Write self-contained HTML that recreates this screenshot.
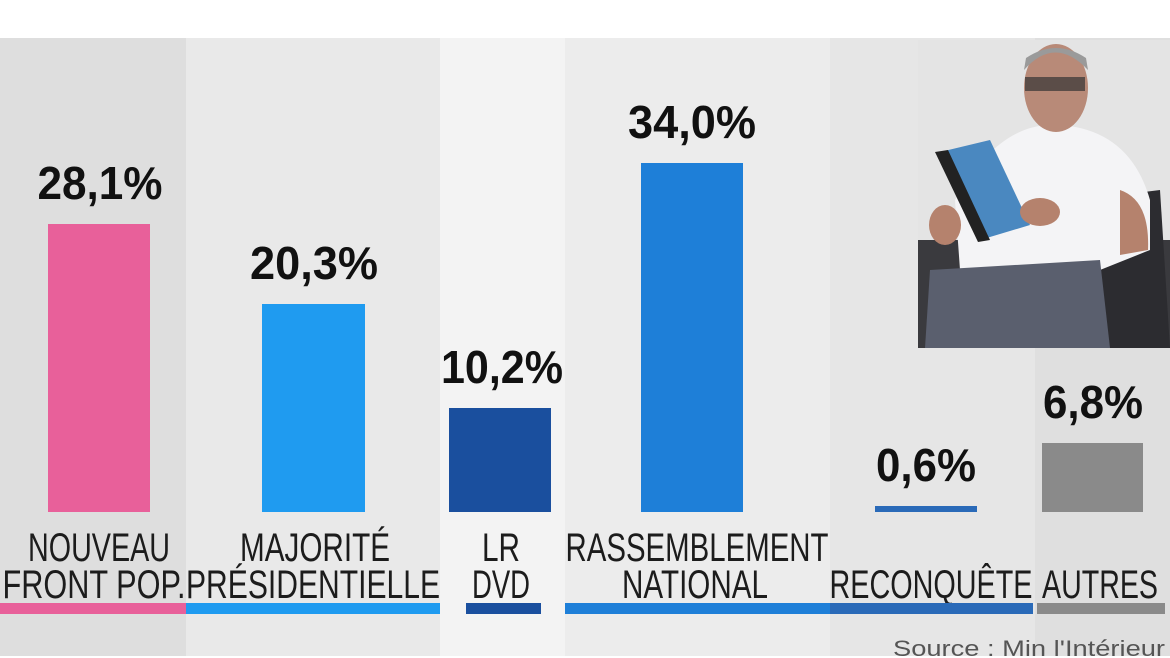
<!DOCTYPE html>
<html><head><meta charset="utf-8"><style>
html,body{margin:0;padding:0;background:#fff;}
svg{display:block}
</style></head><body>
<svg width="1170" height="658" viewBox="0 0 1170 658" xmlns="http://www.w3.org/2000/svg" font-family="Liberation Sans, sans-serif">
<rect x="0" y="0" width="1170" height="658" fill="#fff"/>
<!-- column backgrounds -->
<rect x="0" y="38" width="186" height="618" fill="#dedede"/>
<rect x="186" y="38" width="254" height="618" fill="#e9e9e9"/>
<rect x="440" y="38" width="125" height="618" fill="#f3f3f3"/>
<rect x="565" y="38" width="265" height="618" fill="#ececec"/>
<rect x="830" y="38" width="205" height="618" fill="#e6e6e6"/>
<rect x="1035" y="38" width="135" height="618" fill="#dfdfdf"/>
<!-- bars -->
<rect x="48" y="224" width="102" height="288" fill="#e8609a"/>
<rect x="262" y="304" width="103" height="208" fill="#1f9bf0"/>
<rect x="449" y="408" width="102" height="104" fill="#1a4f9e"/>
<rect x="641" y="163" width="102" height="349" fill="#1e7fd8"/>
<rect x="875" y="506" width="102" height="6" fill="#2a6ab8"/>
<rect x="1042" y="443" width="101" height="69" fill="#8a8a8a"/>
<!-- values -->
<g font-weight="bold" font-size="46" fill="#111" text-anchor="middle" lengthAdjust="spacingAndGlyphs">
<text x="100" y="199" textLength="125" lengthAdjust="spacingAndGlyphs">28,1%</text>
<text x="314" y="279" textLength="128" lengthAdjust="spacingAndGlyphs">20,3%</text>
<text x="502" y="383" textLength="122" lengthAdjust="spacingAndGlyphs">10,2%</text>
<text x="692" y="138" textLength="128" lengthAdjust="spacingAndGlyphs">34,0%</text>
<text x="926" y="481" textLength="100" lengthAdjust="spacingAndGlyphs">0,6%</text>
<text x="1093" y="418" textLength="100" lengthAdjust="spacingAndGlyphs">6,8%</text>
</g>
<!-- labels -->
<g font-size="40" fill="#1c1c1c" text-anchor="middle">
<text x="99" y="561" textLength="142" lengthAdjust="spacingAndGlyphs">NOUVEAU</text>
<text x="94" y="598" textLength="183" lengthAdjust="spacingAndGlyphs">FRONT POP.</text>
<text x="315" y="561" textLength="150" lengthAdjust="spacingAndGlyphs">MAJORITÉ</text>
<text x="313" y="598" textLength="254" lengthAdjust="spacingAndGlyphs">PRÉSIDENTIELLE</text>
<text x="501" y="561" textLength="38" lengthAdjust="spacingAndGlyphs">LR</text>
<text x="501" y="598" textLength="58" lengthAdjust="spacingAndGlyphs">DVD</text>
<text x="697" y="561" textLength="263" lengthAdjust="spacingAndGlyphs">RASSEMBLEMENT</text>
<text x="695" y="598" textLength="146" lengthAdjust="spacingAndGlyphs">NATIONAL</text>
<text x="931" y="598" textLength="203" lengthAdjust="spacingAndGlyphs">RECONQUÊTE</text>
<text x="1100" y="598" textLength="116" lengthAdjust="spacingAndGlyphs">AUTRES</text>
</g>
<!-- underlines -->
<rect x="0" y="603" width="186" height="11" fill="#e8609a"/>
<rect x="186" y="603" width="254" height="11" fill="#1f9bf0"/>
<rect x="466" y="603" width="75" height="11" fill="#1a4f9e"/>
<rect x="565" y="603" width="265" height="11" fill="#1e7fd8"/>
<rect x="830" y="603" width="203" height="11" fill="#2a6ab8"/>
<rect x="1037" y="603" width="128" height="11" fill="#8a8a8a"/>
<text x="1165" y="656" font-size="22" fill="#555" text-anchor="end" textLength="272" lengthAdjust="spacingAndGlyphs">Source : Min l'Intérieur</text>
<!-- photo -->
<g>
<rect x="918" y="40" width="252" height="308" fill="#e4e4e4"/>
<rect x="918" y="240" width="252" height="108" fill="#3a3a3e"/>
<path d="M1080 200 L1160 190 L1170 348 L1085 348 Z" fill="#2c2c30"/>
<path d="M955 200 Q1000 120 1060 125 Q1130 130 1150 200 L1150 250 L1100 270 L960 270 Z" fill="#f4f4f6"/>
<path d="M930 270 L1100 260 L1110 348 L925 348 Z" fill="#5a5f6e"/>
<ellipse cx="1056" cy="88" rx="32" ry="44" fill="#b88a78"/>
<path d="M1024 70 Q1055 35 1088 70 L1086 58 Q1056 38 1026 58 Z" fill="#9a9a9a"/>
<rect x="1025" y="77" width="60" height="14" fill="#333" opacity="0.7"/>
<path d="M940 152 L990 140 L1030 225 L980 240 Z" fill="#4a88c0"/>
<path d="M935 152 L948 150 L990 240 L978 242 Z" fill="#222"/>
<ellipse cx="1040" cy="212" rx="20" ry="14" fill="#b5826d"/>
<ellipse cx="945" cy="225" rx="16" ry="20" fill="#b5826d"/>
<path d="M1120 190 Q1150 200 1148 250 L1120 255 Z" fill="#b5826d"/>
</g>
</svg>
</body></html>
